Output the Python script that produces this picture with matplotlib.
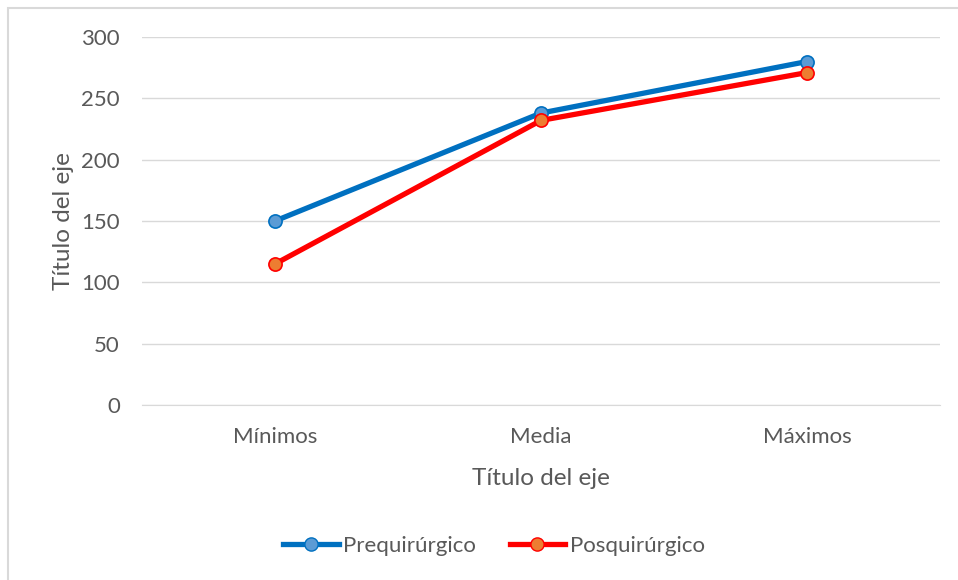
import matplotlib.pyplot as plt
from matplotlib.patches import Rectangle
from matplotlib.lines import Line2D

categorias = ['Mínimos', 'Media', 'Máximos']
prequirurgico = [150, 238, 280]
posquirurgico = [115, 232, 271]

plt.rcParams['font.family'] = ['Lato', 'DejaVu Sans']
gris = '#595959'

fig = plt.figure(figsize=(9.58, 5.8), dpi=100)
ax = fig.add_axes([142 / 958, 175 / 580, 798 / 958, 368 / 580])

# marco del gráfico (sólo se ven los bordes izquierdo y superior)
fig.patches.append(Rectangle((8 / 958, -0.2), 1.2, 1.2 - 8 / 580, transform=fig.transFigure,
                             fill=False, edgecolor='#D9D9D9', linewidth=1.5))

x = range(len(categorias))
ax.plot(x, prequirurgico, color='#0070C0', linewidth=3.8, marker='o', markersize=9.5,
        markerfacecolor='#5B9BD5', markeredgecolor='#0070C0', markeredgewidth=1.2,
        solid_capstyle='round', zorder=3)
ax.plot(x, posquirurgico, color='#FF0000', linewidth=3.8, marker='o', markersize=9.5,
        markerfacecolor='#ED7D31', markeredgecolor='#FF0000', markeredgewidth=1.2,
        solid_capstyle='round', zorder=4)

ax.set_xlim(-0.5, 2.5)
ax.set_ylim(0, 300)
ax.set_yticks(range(0, 301, 50))
ax.set_xticks(list(x))
ax.set_xticklabels(categorias)
ax.grid(axis='y', color='#D9D9D9', linewidth=1)
ax.set_axisbelow(True)
for s in ax.spines.values():
    s.set_visible(False)
ax.spines['bottom'].set_visible(True)
ax.spines['bottom'].set_color('#D9D9D9')
ax.tick_params(length=0, labelsize=16, colors=gris, pad=16)
ax.tick_params(axis='x', pad=16)

ax.set_xlabel('Título del eje', fontsize=17.5, color=gris, labelpad=15)
ax.set_ylabel('Título del eje', fontsize=17.5, color=gris, labelpad=5)

handles = [
    Line2D([], [], color='#0070C0', linewidth=3.8, marker='o', markersize=9.5,
           markerfacecolor='#5B9BD5', markeredgecolor='#0070C0'),
    Line2D([], [], color='#FF0000', linewidth=3.8, marker='o', markersize=9.5,
           markerfacecolor='#ED7D31', markeredgecolor='#FF0000'),
]
leg = fig.legend(handles, ['Prequirúrgico', 'Posquirúrgico'], loc='center',
                 bbox_to_anchor=(494 / 958, 1 - 546 / 580), ncol=2, frameon=False,
                 fontsize=16, handlelength=2.5, handletextpad=0.2, columnspacing=1.5)
for t in leg.get_texts():
    t.set_color(gris)

fig.savefig('out.png', dpi=100)
